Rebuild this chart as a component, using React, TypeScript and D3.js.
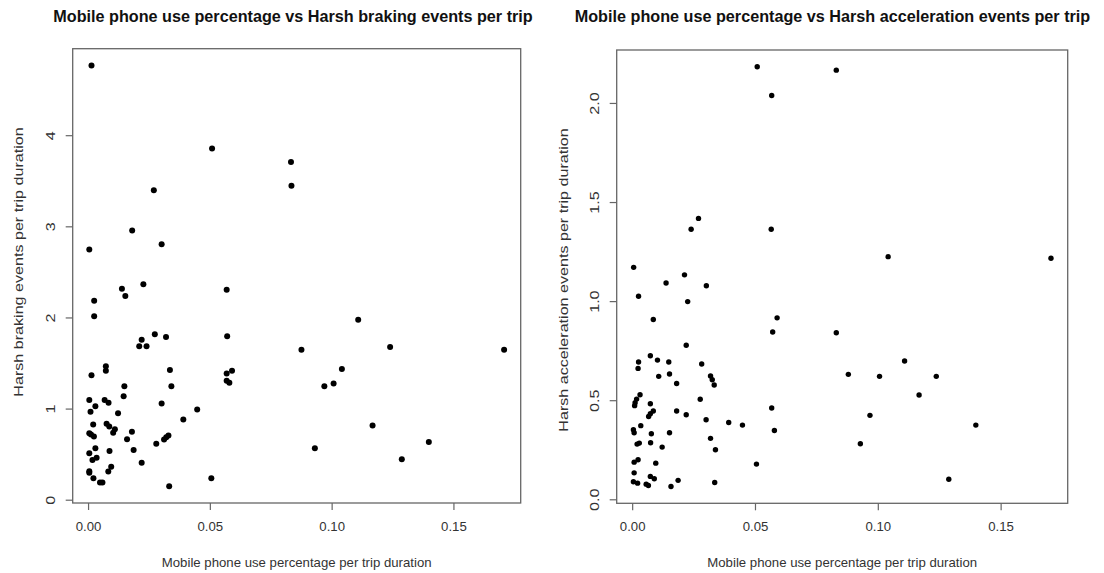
import React from "react";
import * as d3 from "d3";

// Left panel: mobile phone use vs harsh braking events
const brakingPhoneUse = [
  0.0012, 0.0507, 0.0268, 0.0179, 0.0003, 0.030, 0.0831, 0.0833,
  0.0023, 0.0023, 0.0137, 0.0151, 0.0225, 0.0567, 0.0569, 0.0272, 0.0318, 0.0218,
  0.0208, 0.0238, 0.0012, 0.0071, 0.0071, 0.0334, 0.034, 0.0147, 0.0144, 0.0567,
  0.0589, 0.0567, 0.0578, 0.0003, 0.0066, 0.0082, 0.0028, 0.0008, 0.030, 0.0446,
  0.0121, 0.0389, 0.0019, 0.0074, 0.0085, 0.0108, 0.0101, 0.0178, 0.0003, 0.001,
  0.0022, 0.0328, 0.0319, 0.031, 0.0158, 0.0278, 0.0028, 0.0185, 0.0086, 0.0003,
  0.0033, 0.0016, 0.0218, 0.0093, 0.0081, 0.0003, 0.0003, 0.002, 0.0047, 0.0057,
  0.0504, 0.0331,
  0.1107, 0.0874, 0.1238, 0.1706, 0.104, 0.0968, 0.1006, 0.1166, 0.0929, 0.1397, 0.1286,
];
const brakingEvents = [
  4.77, 3.86, 3.40, 2.96, 2.75, 2.81, 3.71, 3.45,
  2.19, 2.02, 2.32, 2.24, 2.37, 2.31, 1.80, 1.82, 1.79, 1.76,
  1.69, 1.69, 1.37, 1.47, 1.42, 1.43, 1.25, 1.25, 1.14, 1.39,
  1.42, 1.31, 1.29, 1.10, 1.10, 1.07, 1.03, 0.97, 1.06, 0.996,
  0.955, 0.886, 0.83, 0.84, 0.81, 0.78, 0.74, 0.75, 0.735, 0.72,
  0.70, 0.71, 0.69, 0.666, 0.67, 0.62, 0.57, 0.55, 0.54, 0.516,
  0.465, 0.44, 0.41, 0.366, 0.315, 0.318, 0.30, 0.24, 0.194, 0.194,
  0.24, 0.154,
  1.98, 1.65, 1.68, 1.65, 1.44, 1.25, 1.28, 0.82, 0.57, 0.64, 0.45,
];

// Right panel: mobile phone use vs harsh acceleration events
const accelPhoneUse = [
  0.0507, 0.0829, 0.0566, 0.0268, 0.0238, 0.0564, 0.0004, 0.0211, 0.104, 0.1703,
  0.0136, 0.030, 0.0024, 0.0224, 0.0084, 0.0588, 0.057, 0.0829, 0.0218, 0.0072,
  0.0101, 0.0147, 0.0281, 0.0024, 0.0022, 0.0106, 0.015, 0.0179, 0.0317, 0.0324,
  0.0332, 0.003, 0.0016, 0.001, 0.0008, 0.0072, 0.0084, 0.0072, 0.0065, 0.0179,
  0.0218, 0.0275, 0.0299, 0.0391, 0.0447, 0.0566, 0.0577, 0.0033, 0.0003, 0.0006,
  0.0076, 0.015, 0.0317, 0.0027, 0.0018, 0.0073, 0.012, 0.0337, 0.0022, 0.0006,
  0.0094, 0.0504, 0.0006, 0.0072, 0.0088, 0.0185, 0.0003, 0.002, 0.0055, 0.0064,
  0.0156, 0.0334,
  0.0878, 0.1005, 0.1107, 0.1236, 0.1166, 0.0966, 0.0927, 0.1397, 0.1287,
];
const accelEvents = [
  2.185, 2.168, 2.04, 1.42, 1.365, 1.365, 1.173, 1.135, 1.227, 1.219,
  1.094, 1.08, 1.027, 1.0, 0.91, 0.918, 0.847, 0.843, 0.78, 0.727,
  0.705, 0.695, 0.685, 0.695, 0.663, 0.623, 0.635, 0.587, 0.625, 0.606,
  0.579, 0.53, 0.508, 0.49, 0.475, 0.485, 0.448, 0.434, 0.42, 0.448,
  0.429, 0.507, 0.404, 0.39, 0.377, 0.463, 0.35, 0.374, 0.354, 0.338,
  0.333, 0.338, 0.31, 0.286, 0.281, 0.288, 0.266, 0.2525, 0.202, 0.19,
  0.185, 0.18, 0.136, 0.118, 0.106, 0.098, 0.091, 0.084, 0.079, 0.072,
  0.067, 0.087,
  0.633, 0.623, 0.70, 0.623, 0.529, 0.426, 0.283, 0.377, 0.104,
];

const xTicks = [0, 0.05, 0.1, 0.15];
const brakingYTicks = [0, 1, 2, 3, 4];
const accelYTicks = [0, 0.5, 1, 1.5, 2];

const FONT = "'Liberation Sans', Arial, Helvetica, sans-serif";
const VSTRETCH = 1.22; // the reference image is stretched vertically

function padDomain(vals: number[]): [number, number] {
  const [lo, hi] = d3.extent(vals) as [number, number];
  const p = (hi - lo) * 0.04;
  return [lo - p, hi + p];
}

type PanelProps = {
  xs: number[];
  ys: number[];
  yTicks: number[];
  yFmt: (v: number) => string;
  box: { x0: number; x1: number; y0: number; y1: number };
  title: string;
  titleX: number;
  yLabel: string;
  yLabelX: number;
  yLabelY: number;
  yTickX: number;
  r: number;
};

function Panel(p: PanelProps) {
  const x = d3.scaleLinear().domain(padDomain(p.xs)).range([p.box.x0, p.box.x1]);
  const y = d3.scaleLinear().domain(padDomain(p.ys)).range([p.box.y1, p.box.y0]);
  const cx = (p.box.x0 + p.box.x1) / 2;
  const axisCol = "#666";
  const textCol = "#333";
  return (
    <g>
      <text x={p.titleX} y={22} textAnchor="middle" fontFamily={FONT} fontWeight="bold" fontSize={16.2} fill="#111">
        {p.title}
      </text>
      <rect x={p.box.x0} y={p.box.y0} width={p.box.x1 - p.box.x0} height={p.box.y1 - p.box.y0} fill="none" stroke={axisCol} strokeWidth={1.3} />
      {xTicks.map((t) => (
        <g key={"x" + t}>
          <line x1={x(t)} x2={x(t)} y1={p.box.y1} y2={p.box.y1 + 7} stroke={axisCol} strokeWidth={1.2} />
          <text x={x(t)} y={p.box.y1 + 28} textAnchor="middle" fontFamily={FONT} fontSize={13.2} fill={textCol}>
            {d3.format(".2f")(t)}
          </text>
        </g>
      ))}
      {p.yTicks.map((t) => (
        <g key={"y" + t}>
          <line x1={p.box.x0 - 7} x2={p.box.x0} y1={y(t)} y2={y(t)} stroke={axisCol} strokeWidth={1.2} />
          <text
            transform={`translate(${p.yTickX},${y(t)}) rotate(-90) scale(${VSTRETCH},1)`}
            textAnchor="middle"
            dy="0.35em"
            fontFamily={FONT}
            fontSize={13.2}
            fill={textCol}
          >
            {p.yFmt(t)}
          </text>
        </g>
      ))}
      <text x={cx} y={567} textAnchor="middle" fontFamily={FONT} fontSize={13.2} fill={textCol}>
        Mobile phone use percentage per trip duration
      </text>
      <text
        transform={`translate(${p.yLabelX},${p.yLabelY}) rotate(-90) scale(${VSTRETCH},1)`}
        textAnchor="middle"
        dy="0.35em"
        fontFamily={FONT}
        fontSize={13.2}
        fill={textCol}
      >
        {p.yLabel}
      </text>
      {p.xs.map((v, i) => (
        <circle key={i} cx={x(v)} cy={y(p.ys[i])} r={p.r} fill="#000" />
      ))}
    </g>
  );
}

export default function App() {
  return (
    <svg
      width={1104}
      height={573}
      style={{ position: "absolute", left: 0, top: 0, display: "block", background: "#fff" }}
    >
      <rect width={1104} height={573} fill="#fff" />
      <Panel
        xs={brakingPhoneUse}
        ys={brakingEvents}
        yTicks={brakingYTicks}
        yFmt={d3.format("d")}
        box={{ x0: 72.7, x1: 520.7, y0: 48.7, y1: 503 }}
        title="Mobile phone use percentage vs Harsh braking events per trip"
        titleX={293}
        yLabel="Harsh braking events per trip duration"
        yLabelX={18}
        yLabelY={262}
        yTickX={50}
        r={3}
      />
      <Panel
        xs={accelPhoneUse}
        ys={accelEvents}
        yTicks={accelYTicks}
        yFmt={d3.format(".1f")}
        box={{ x0: 616.7, x1: 1067.7, y0: 50, y1: 503.3 }}
        title="Mobile phone use percentage vs Harsh acceleration events per trip"
        titleX={832.5}
        yLabel="Harsh acceleration events per trip duration"
        yLabelX={563}
        yLabelY={280}
        yTickX={594}
        r={2.7}
      />
    </svg>
  );
}
